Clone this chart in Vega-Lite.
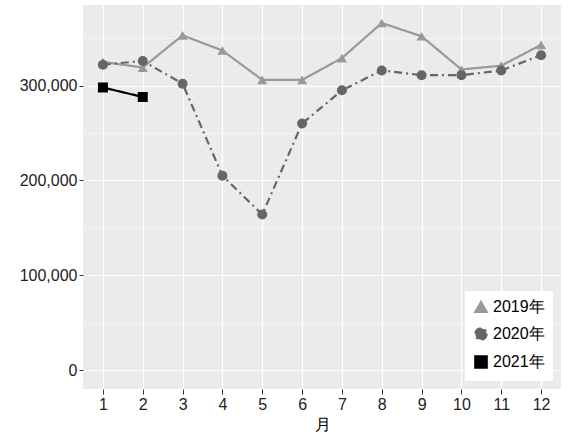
{
  "$schema": "https://vega.github.io/schema/vega-lite/v6.json",
  "autosize": {"type": "fit", "contains": "padding"},
  "width": 569,
  "height": 437,
  "padding": {"left": 19, "right": 8, "top": 5, "bottom": 5},
  "data": {"values": [
    {"m": 1, "y": "2019年", "v": 325000}, {"m": 2, "y": "2019年", "v": 319000},
    {"m": 3, "y": "2019年", "v": 353000}, {"m": 4, "y": "2019年", "v": 337000},
    {"m": 5, "y": "2019年", "v": 306000}, {"m": 6, "y": "2019年", "v": 306000},
    {"m": 7, "y": "2019年", "v": 329000}, {"m": 8, "y": "2019年", "v": 366000},
    {"m": 9, "y": "2019年", "v": 352000}, {"m": 10, "y": "2019年", "v": 317000},
    {"m": 11, "y": "2019年", "v": 321000}, {"m": 12, "y": "2019年", "v": 343000},
    {"m": 1, "y": "2020年", "v": 322000}, {"m": 2, "y": "2020年", "v": 326000},
    {"m": 3, "y": "2020年", "v": 302000}, {"m": 4, "y": "2020年", "v": 205000},
    {"m": 5, "y": "2020年", "v": 164000}, {"m": 6, "y": "2020年", "v": 260000},
    {"m": 7, "y": "2020年", "v": 295000}, {"m": 8, "y": "2020年", "v": 316000},
    {"m": 9, "y": "2020年", "v": 311000}, {"m": 10, "y": "2020年", "v": 311000},
    {"m": 11, "y": "2020年", "v": 316000}, {"m": 12, "y": "2020年", "v": 332000},
    {"m": 1, "y": "2021年", "v": 298000}, {"m": 2, "y": "2021年", "v": 288000}
  ]},
  "encoding": {
    "x": {"field": "m", "type": "ordinal", "title": "月",
      "scale": {"domain": [1,2,3,4,5,6,7,8,9,10,11,12], "padding": 0.5},
      "axis": {"labelAngle": 0}},
    "y": {"field": "v", "type": "quantitative", "title": null,
      "scale": {"domain": [-20000, 385000], "nice": false, "zero": false},
      "axis": {"values": [0, 50000, 100000, 150000, 200000, 250000, 300000, 350000],
        "labelExpr": "datum.value % 100000 == 0 ? format(datum.value, ',') : ''",
        "gridWidth": {"expr": "datum.value % 100000 == 0 ? 1.2 : 0.5"},
        "tickSize": {"expr": "datum.value % 100000 == 0 ? 4 : 0"}}},
    "color": {"field": "y", "type": "nominal", "title": null,
      "scale": {"domain": ["2019年", "2020年", "2021年"], "range": ["#999999", "#666666", "#000000"]},
      "legend": {"orient": "bottom-right", "fillColor": "white", "padding": 8, "offset": 8, "labelFontSize": 16, "symbolSize": 130, "symbolStrokeWidth": 2.5, "rowPadding": 6}},
    "shape": {"field": "y", "type": "nominal",
      "scale": {"domain": ["2019年", "2020年", "2021年"], "range": ["triangle-up", "circle", "square"]}},
    "strokeDash": {"field": "y", "type": "nominal",
      "scale": {"domain": ["2019年", "2020年", "2021年"], "range": [[1, 0], [8, 4, 2, 4], [1, 0]]}},
    "strokeWidth": {"field": "y", "type": "nominal", "legend": null,
      "scale": {"domain": ["2019年", "2020年", "2021年"], "range": [2.2, 2.2, 3]}}
  },
  "layer": [
    {"mark": {"type": "line"}},
    {"mark": {"type": "point", "filled": true, "opacity": 1, "size": 100}}
  ],
  "config": {
    "font": "Liberation Sans",
    "view": {"fill": "#EBEBEB", "stroke": null},
    "axis": {"grid": true, "gridColor": "white", "domain": false, "tickColor": "#333", "labelColor": "#222", "labelFontSize": 16, "titleFontSize": 16, "titleFontWeight": "normal", "titleColor": "black"},
    "axisX": {"grid": true, "gridWidth": 1.2}
  }
}
